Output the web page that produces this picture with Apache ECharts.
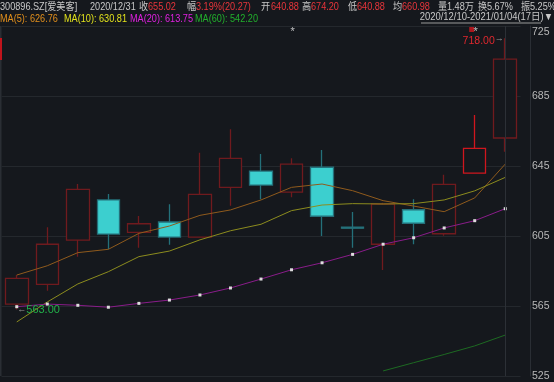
<!DOCTYPE html>
<html><head><meta charset="utf-8">
<script src="https://cdn.jsdelivr.net/npm/echarts@6/dist/echarts.min.js"></script>
<style>html,body{margin:0;padding:0;background:#15181d;}#c{width:554px;height:382px;}</style>
</head><body><div id="c"></div>
<script>
const dates = ['2020-12-10','2020-12-11','2020-12-14','2020-12-15','2020-12-16','2020-12-17','2020-12-18','2020-12-21','2020-12-22','2020-12-23','2020-12-24','2020-12-25','2020-12-28','2020-12-29','2020-12-30','2020-12-31','2021-01-04'];
const openP  = [566.1,577.4,602.7,625.6,607.1,613.0,604.4,632.8,642.1,630.1,644.3,610.0,600.3,620.0,606.3,640.88,661.0];
const closeP = [580.8,600.3,631.7,606.1,612.0,604.4,628.8,649.4,634.1,646.1,616.3,609.5,623.3,612.3,634.5,655.02,706.1];
const highP  = [582.7,610.0,634.7,629.0,616.4,623.1,652.6,666.0,651.9,649.4,654.1,618.7,624.0,626.0,640.0,674.20,718.0];
const lowP   = [563.0,573.7,593.2,597.4,598.3,600.0,604.0,622.3,626.0,627.1,605.0,598.3,585.6,600.3,605.2,640.88,653.2];
const ma5  = [582.7,588.0,595.5,597.4,606.5,610.7,616.8,619.9,625.6,632.8,634.7,630.9,625.2,622.1,618.9,626.76,646.1];
const ma10 = [555.9,567.3,577.6,584.6,593.2,596.4,602.8,608.0,611.7,619.5,622.7,623.5,623.3,623.5,625.6,630.81,638.5];
const ma20 = [564.6,566.1,565.4,564.3,566.5,568.4,571.3,575.3,580.4,585.7,589.7,594.5,600.3,604.0,609.6,613.75,620.6];
const ma60 = [null,null,null,null,null,null,null,null,null,null,null,null,527.9,532.6,537.3,542.2,548.4];
const eventDays = ['2020-12-23','2020-12-31'];
const eventLevel = 723;
const selectedDay = '2020-12-31';
const yTicks = [525,565,605,645,685,725];

const FONT = "'Liberation Sans','Noto Sans CJK SC',sans-serif";
const GRAY = '#c8c8c8', RED = '#e8353b';
const line1 = [
  [0,'300896.SZ[爱美客]',GRAY],[90,'2020/12/31',GRAY],
  [139,'收',GRAY],[148,'655.02',RED],
  [187,'幅',GRAY],[196,'3.19%(20.27)',RED],
  [261,'开',GRAY],[271,'640.88',RED],
  [302,'高',GRAY],[311,'674.20',RED],
  [348,'低',GRAY],[357,'640.88',RED],
  [393,'均',GRAY],[402,'660.98',RED],
  [438,'量',GRAY],[447,'1.48万',GRAY],
  [478,'换',GRAY],[487,'5.67%',GRAY],
  [521,'振',GRAY],[530,'5.25%',GRAY]
];
const line2 = [
  [0,'MA(5): 626.76','#e3901c'],[64,'MA(10): 630.81','#e2e21c'],
  [130,'MA(20): 613.75','#e020e0'],[195,'MA(60): 542.20','#22b02c']
];
const SX = 0.87;
const graphics = [];
line1.forEach(s=>graphics.push({type:'text',x:s[0],y:7,scaleX:SX,style:{text:s[1],fill:s[2],font:'10.5px '+FONT,verticalAlign:'middle',align:'left'}}));
line2.forEach(s=>graphics.push({type:'text',x:s[0],y:19,scaleX:SX,style:{text:s[1],fill:s[2],font:'10.5px '+FONT,verticalAlign:'middle',align:'left'}}));
graphics.push({type:'text',x:553,y:17,scaleX:0.9,style:{text:'2020/12/10-2021/01/04(17日)▼',fill:GRAY,font:'10.5px '+FONT,verticalAlign:'middle',align:'right'}});
graphics.push({type:'line',shape:{x1:421,y1:23,x2:541,y2:23},style:{stroke:'#9a9a9a',lineWidth:1}});
graphics.push({type:'rect',shape:{x:0,y:26,width:1.5,height:350},style:{fill:'#2a2e34'}});
graphics.push({type:'rect',shape:{x:0,y:38,width:2,height:22},style:{fill:'#c0141c'}});

const candleData = dates.map((d,i)=>{
  const item = {value:[openP[i],closeP[i],lowP[i],highP[i]]};
  if (d===selectedDay) item.itemStyle = {borderColor:'#d0161e'};
  return item;
});

const chart = echarts.init(document.getElementById('c'));
chart.setOption({
  backgroundColor:'#15181d',
  animation:false,
  graphic:graphics,
  grid:{left:1.5,right:33.5,top:26,bottom:6},
  xAxis:{type:'category',data:dates,boundaryGap:true,axisLine:{show:false},axisTick:{show:false},axisLabel:{show:false},splitLine:{show:false}},
  yAxis:{type:'value',position:'right',min:yTicks[0],max:yTicks[yTicks.length-1],interval:40,offset:9.5,
    axisLine:{show:true,lineStyle:{color:'#2a2e34'}},axisTick:{show:false},
    axisLabel:{margin:2,color:'#b8b8b8',fontSize:10.5,fontFamily:FONT,
      formatter:v=> v===yTicks[yTicks.length-1] ? '{t|'+v+'}' : String(v),
      rich:{t:{padding:[12,0,0,0],color:'#b8b8b8',fontSize:10.5,fontFamily:FONT}}},
    splitLine:{show:true,lineStyle:{color:'#24282d',width:1}}},
  series:[
    {type:'candlestick',data:candleData,barWidth:23,
      itemStyle:{color:'#15181d',borderColor:'#701a1e',color0:'#3ccfcf',borderColor0:'#24707a',borderWidth:1.3},
      markPoint:{symbol:'circle',symbolSize:1,itemStyle:{color:'rgba(0,0,0,0)'},
        data:[
          {type:'max',valueDim:'highest',label:{show:true,position:'left',distance:1,offset:[0,3],
            formatter:p=>'{v|'+p.value.toFixed(2)+'}{a|→}',
            rich:{v:{color:'#e0282e',fontSize:10.5,fontFamily:FONT},a:{color:'#9a9a9a',fontSize:9,padding:[0,0,6,0]}}}},
          {type:'min',valueDim:'lowest',label:{show:true,position:'right',distance:0,offset:[0,0],
            formatter:p=>'{a|←}{v|'+p.value.toFixed(2)+'}',
            rich:{v:{color:'#22b04a',fontSize:11,fontFamily:FONT},a:{color:'#9a9a9a',fontSize:9}}}}
        ]},
      markLine:{symbol:['none','none'],silent:true,label:{show:false},lineStyle:{color:'#2c3036',type:'solid',width:1},
        data:[{xAxis:dates[dates.length-1]}]}
    },
    {type:'line',data:ma5,symbol:'none',lineStyle:{color:'#8f5a1c',width:1},z:3},
    {type:'line',data:ma10,symbol:'none',lineStyle:{color:'#8c8c1e',width:1},z:3},
    {type:'line',data:ma20,symbol:'rect',symbolSize:3,showSymbol:true,itemStyle:{color:'#dddddd'},lineStyle:{color:'#8a1c8a',width:1},z:3},
    {type:'line',data:ma60,symbol:'none',lineStyle:{color:'#1d6a22',width:1},z:3},
    {type:'scatter',data:eventDays.map(d=>[d,eventLevel]),symbolSize:0,z:5,
      label:{show:true,position:'inside',formatter:'*',color:'#e8e8e8',fontSize:11,offset:[1,2]}},
    {type:'scatter',data:[[selectedDay,eventLevel]],symbol:'rect',symbolSize:[5,5],symbolOffset:[-3,0],itemStyle:{color:'#d0161e'},z:4}
  ]
});
</script></body></html>
